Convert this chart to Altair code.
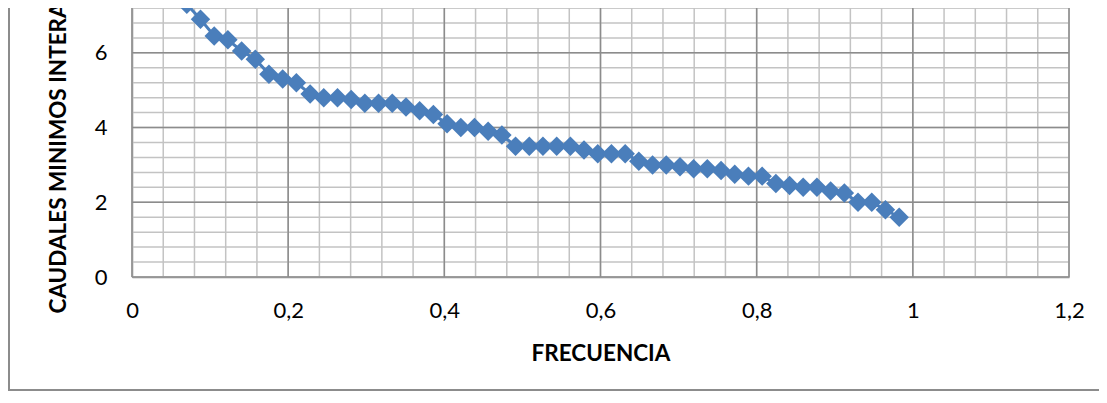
import altair as alt
import pandas as pd

# Frequency (x) and minimum flows (y)
frecuencia = [0.0175, 0.0351, 0.0526, 0.0702, 0.0877, 0.1053, 0.1228, 0.1404, 0.1579, 0.1754,
              0.1930, 0.2105, 0.2281, 0.2456, 0.2632, 0.2807, 0.2982, 0.3158, 0.3333, 0.3509,
              0.3684, 0.3860, 0.4035, 0.4211, 0.4386, 0.4561, 0.4737, 0.4912, 0.5088, 0.5263,
              0.5439, 0.5614, 0.5789, 0.5965, 0.6140, 0.6316, 0.6491, 0.6667, 0.6842, 0.7018,
              0.7193, 0.7368, 0.7544, 0.7719, 0.7895, 0.8070, 0.8246, 0.8421, 0.8596, 0.8772,
              0.8947, 0.9123, 0.9298, 0.9474, 0.9649, 0.9825]
caudales = [8.6, 8.0, 7.6, 7.3, 6.9, 6.45, 6.35, 6.05, 5.83, 5.43,
            5.3, 5.2, 4.9, 4.8, 4.8, 4.75, 4.65, 4.65, 4.65, 4.55,
            4.45, 4.35, 4.1, 4.0, 4.0, 3.9, 3.8, 3.5, 3.5, 3.5,
            3.5, 3.5, 3.4, 3.3, 3.3, 3.3, 3.1, 3.0, 3.0, 2.95,
            2.9, 2.9, 2.85, 2.75, 2.7, 2.7, 2.5, 2.45, 2.4, 2.4,
            2.3, 2.25, 2.0, 2.0, 1.8, 1.6]

x_ticks = [0, 0.2, 0.4, 0.6, 0.8, 1.0, 1.2]
y_ticks = [0, 2, 4, 6]
x_minor = [round(k * 0.04, 2) for k in range(31)]
y_minor = [round(k * 0.4, 1) for k in range(19)]

X_DOM = [0, 1.2]
Y_DOM = [0, 7.2]
W, H = 937, 269
FONT = "Lato"
BLUE = "#4A7EBB"
X_TITLE = "FRECUENCIA"
Y_TITLE = "CAUDALES MINIMOS INTERANUALES"

df = pd.DataFrame({"x": frecuencia, "y": caudales})
xs = alt.Scale(domain=X_DOM, nice=False, zero=False)
ys = alt.Scale(domain=Y_DOM, nice=False, zero=False)

x_axis = alt.Axis(values=x_ticks, grid=False, ticks=False, domain=True, domainColor="#8c8c8c",
                  domainWidth=1.5,
                  labelExpr="replace(format(datum.value, '.1~f'), '.', ',')",
                  labelFont=FONT, labelFontSize=22, labelColor="#000000", labelPadding=23,
                  labelFlush=False,
                  titleFont=FONT, titleFontSize=22.5, titleFontWeight="bold", titleColor="#000000",
                  titleY=76, titleBaseline="middle")
y_axis = alt.Axis(values=y_ticks, grid=False, ticks=False, domain=True, domainColor="#8c8c8c",
                  domainWidth=1.5,
                  labelFont=FONT, labelFontSize=22, labelColor="#000000", labelPadding=25,
                  labelFlush=False,
                  titleFont=FONT, titleFontSize=22.5, titleFontWeight="bold", titleColor="#000000",
                  titleAngle=-90, titleAlign="left", titleBaseline="middle",
                  titleX=-74, titleY=305)


def X(field):
    return alt.X(field, scale=xs, axis=x_axis, title=X_TITLE)


def Y(field):
    return alt.Y(field, scale=ys, axis=y_axis, title=Y_TITLE)


minor_x = alt.Chart(pd.DataFrame({"v": x_minor})).mark_rule(color="#c3c3c3", strokeWidth=1.5).encode(
    x=X("v:Q"))
minor_y = alt.Chart(pd.DataFrame({"v": y_minor})).mark_rule(color="#c3c3c3", strokeWidth=1.5).encode(
    y=Y("v:Q"))
major_x = alt.Chart(pd.DataFrame({"v": x_ticks})).mark_rule(color="#8c8c8c", strokeWidth=1.5).encode(
    x=X("v:Q"))
major_y = alt.Chart(pd.DataFrame({"v": y_ticks})).mark_rule(color="#8c8c8c", strokeWidth=1.5).encode(
    y=Y("v:Q"))

line = alt.Chart(df).mark_line(color=BLUE, strokeWidth=3, clip=True).encode(
    x=X("x:Q"), y=Y("y:Q"))
points = alt.Chart(df).mark_point(shape="diamond", filled=True, color=BLUE, size=380, opacity=1,
                                  clip=True).encode(x=X("x:Q"), y=Y("y:Q"))

border_left = alt.Chart(pd.DataFrame({"a": [0]})).mark_rule(color="#8c8c8c", strokeWidth=2, clip=False).encode(
    x=alt.value(-123), y=alt.value(-5), y2=alt.value(382))
border_bottom = alt.Chart(pd.DataFrame({"a": [0]})).mark_rule(color="#8c8c8c", strokeWidth=2, clip=False).encode(
    x=alt.value(-124), x2=alt.value(967), y=alt.value(382))

chart = alt.layer(minor_x, minor_y, major_x, major_y, line, points, border_left, border_bottom).properties(
    width=W, height=H,
    autosize=alt.AutoSizeParams(type="none"),
    padding={"left": 124, "top": 0, "right": 30, "bottom": 114},
).configure_view(stroke=None).configure(background="white")

chart.save("out.html", embed_options={"renderer": "svg", "actions": False})
